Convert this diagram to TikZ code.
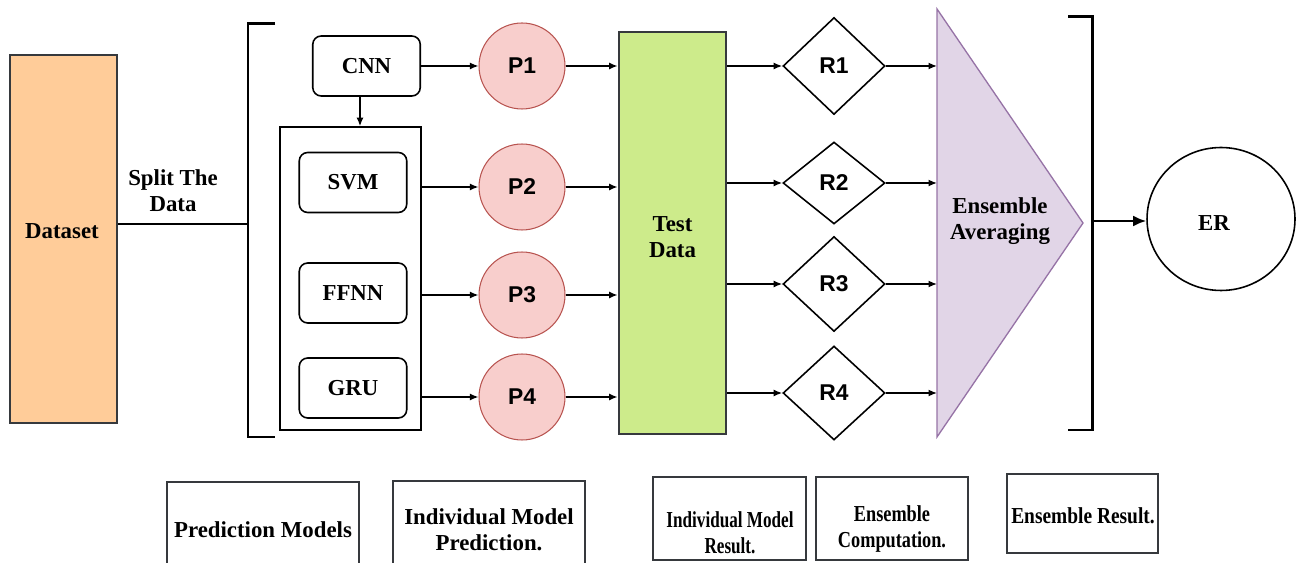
\documentclass[tikz,border=0pt]{standalone}
\usepackage{fontspec}
\setmainfont{Liberation Serif}
\newfontfamily\sansbold{Liberation Sans}
\usetikzlibrary{arrows.meta,shapes.geometric,calc}
\definecolor{edge}{HTML}{36393D}
\definecolor{peach}{HTML}{FFCC99}
\definecolor{pinkfill}{HTML}{F8CECC}
\definecolor{pinkline}{HTML}{B85450}
\definecolor{lime}{HTML}{CDEB8B}
\definecolor{lilac}{HTML}{E1D5E7}
\definecolor{lilacline}{HTML}{9673A6}
\newcommand{\squeeze}[2]{\scalebox{#1}[1]{\begin{tabular}{@{}c@{}}#2\end{tabular}}}
\tikzset{
  txt/.style={font=\fontsize{13}{15}\selectfont\bfseries, align=center},
  model/.style={txt, draw=black, line width=0.9pt, rounded corners=4.8pt, minimum width=2.15cm, minimum height=1.2cm, inner sep=0pt},
  pred/.style={circle, fill=pinkfill, draw=pinkline, line width=0.6pt, minimum size=1.72cm, inner sep=0pt, font=\sansbold\fontsize{13}{15}\selectfont\bfseries},
  res/.style={diamond, draw=black, line width=0.9pt, minimum width=2.04cm, inner sep=0pt, font=\sansbold\fontsize{13}{15}\selectfont\bfseries},
  bar/.style={draw=edge, line width=1.6pt, inner sep=0pt},
  conn/.style={draw=black, line width=0.85pt, -{Latex[length=1.7mm,width=1.4mm]}},
  brk/.style={draw=black, line width=1.7pt},
  tag/.style={draw=edge, line width=0.7pt, inner sep=0pt},
}
\begin{document}
\begin{tikzpicture}[x=0.02cm, y=-0.02cm]
  \useasboundingbox (0,0) rectangle (1297,563);
  % input side
  \node[bar, fill=peach, minimum width=2.14cm, minimum height=7.36cm] (data) at (63.5,239) {};
  \node[txt] (dataT) at (62,231) {Dataset};
  \node[txt] (split) at (173,191) {Split The\\Data};
  \coordinate (lbr) at (248,224);
  \draw[line width=1.2pt] (lbr -| data.east) -- (lbr);
  \draw[brk] (275,24) -- (248,24) -- (248,437) -- (275,437);
  % prediction models
  \node[model] (CNN) at (366.5,66) {CNN};
  \node[draw=black, line width=0.9pt, minimum width=2.82cm, minimum height=6.06cm] (grp) at (350.5,278.5) {};
  \foreach \m/\y in {SVM/182.5, FFNN/293, GRU/388}
    \node[model] (\m) at (353,\y) {\m};
  \draw[conn] (CNN.south -| 360,0) -- (grp.north -| 360,0);
  % individual predictions
  \foreach \i/\y in {1/66, 2/187, 3/295, 4/397}
    \node[pred] (P\i) at (522,\y) {P\i};
  \draw[conn] (CNN.east) -- (P1.west);
  \foreach \i in {2,3,4}
    \draw[conn] (P\i.west -| grp.east) -- (P\i.west);
  \node[bar, fill=lime, minimum width=2.14cm, minimum height=8.04cm] (td) at (672.5,233) {};
  \node[txt] (tdT) at (672.5,237) {Test\\Data};
  \foreach \i in {1,...,4}
    \draw[conn] (P\i.east) -- (P\i.east -| td.west);
  % individual results
  \foreach \i/\y/\h in {1/66/1.94, 2/183/1.64, 3/284/1.9, 4/393/1.88}
    \node[res, minimum height=\h cm] (R\i) at (834,\y) {R\i};
  \foreach \i in {1,...,4}
    \draw[conn] (R\i.west -| td.east) -- (R\i.west);
  % ensemble averaging
  \coordinate (tt) at (937,9);
  \coordinate (tip) at (1083,223);
  \coordinate (tb) at (937,437);
  \draw[fill=lilac, draw=lilacline, line width=0.75pt] (tt) -- (tip) -- (tb) -- cycle;
  \node[txt] (avg) at (1000,221) {Ensemble\\Averaging};
  \foreach \i in {1,...,4}
    \draw[conn] (R\i.east) -- (R\i.east -| tt);
  \draw[brk] (1068,17) -- (1092,17) -- (1092,430) -- (1068,430);
  % ensemble result
  \node[ellipse, draw=black, line width=0.9pt, minimum width=2.96cm, minimum height=2.86cm] (ER) at (1221,219) {};
  \node[txt] (erT) at (1214,223) {ER};
  \coordinate (rbr) at (1093,221);
  \draw[line width=1.7pt, -{Latex[length=2.6mm,width=2.2mm]}] (rbr) -- (rbr -| ER.west);
  % stage captions
  \node[tag, minimum width=3.84cm, minimum height=1.92cm] (capA) at (263,530) {};
  \node[txt] (capAT) at (263,530) {Prediction Models};
  \node[tag, minimum width=3.84cm, minimum height=1.96cm] (capB) at (489,530) {};
  \node[txt] (capBT) at (489,530) {Individual Model\\Prediction.};
  \node[tag, minimum width=3.06cm, minimum height=1.66cm] (capC) at (729.5,518.5) {};
  \node[txt] (capCT) at (730,535) {\squeeze{0.75}{Individual Model\\Result.}};
  \node[tag, minimum width=3.04cm, minimum height=1.66cm] (capD) at (892,518.5) {};
  \node[txt] (capDT) at (892,529) {\squeeze{0.8}{Ensemble\\Computation.}};
  \node[tag, minimum width=3.02cm, minimum height=1.58cm] (capE) at (1082.5,513.5) {};
  \node[txt] (capET) at (1083,518) {\squeeze{0.85}{Ensemble Result.}};
\end{tikzpicture}
\end{document}
